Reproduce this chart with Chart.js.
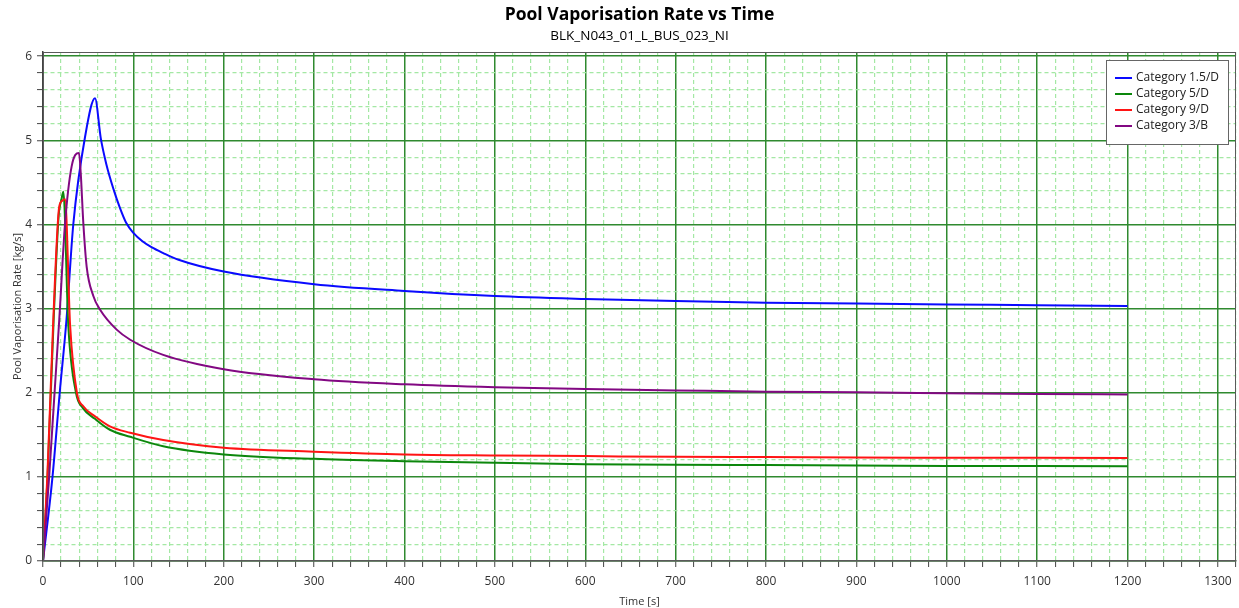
<!DOCTYPE html>
<html>
<head>
<meta charset="utf-8">
<script src="https://cdn.jsdelivr.net/npm/chart.js@4.4.1/dist/chart.umd.min.js"></script>
<style>
    html, body { margin: 0; padding: 0; background: #ffffff; }
    canvas { display: block; }
</style>
</head>
<body>
<canvas id="poolChart" width="1239" height="608"></canvas>
<script>
const chartTitle = 'Pool Vaporisation Rate vs Time';
const chartSubtitle = 'BLK_N043_01_L_BUS_023_NI';
const xAxisLabel = 'Time [s]';
const yAxisLabel = 'Pool Vaporisation Rate [kg/s]';

const seriesNames = ['Category 1.5/D', 'Category 5/D', 'Category 9/D', 'Category 3/B'];
const seriesColors = ['#0a0aff', '#0c870c', '#ff1414', '#820882'];

// Category 1.5/D
const time15D = [0, 10.5, 18.5, 26, 33.5, 46.5, 57.5, 64, 70, 78, 85, 92, 100, 110, 120, 133, 150, 200, 300, 400, 500, 600, 700, 800, 900, 1000, 1100, 1200];
const rate15D = [0, 1, 2, 2.87, 4, 5.04, 5.5, 5.02, 4.72, 4.42, 4.2, 4.02, 3.9, 3.8, 3.73, 3.66, 3.58, 3.44, 3.29, 3.21, 3.15, 3.115, 3.09, 3.07, 3.06, 3.05, 3.04, 3.03];

// Category 5/D
const time5D = [0, 5, 11.8, 17.3, 20.5, 22.5, 28, 36.5, 44, 57.5, 74, 96.5, 133, 200, 300, 400, 500, 600, 700, 800, 900, 1000, 1100, 1200];
const rate5D = [0, 1, 2.87, 4.1, 4.3, 4.39, 2.8, 2.0, 1.82, 1.69, 1.56, 1.476, 1.365, 1.267, 1.214, 1.187, 1.167, 1.151, 1.143, 1.14, 1.136, 1.13, 1.128, 1.125];

// Category 9/D
const time9D = [0, 4.8, 11.4, 17.8, 21, 24.4, 30, 37.5, 44.6, 57.5, 74, 96.5, 133, 200, 300, 400, 500, 600, 700, 800, 900, 1000, 1100, 1200];
const rate9D = [0, 1, 2.87, 4.2, 4.28, 4.3, 2.8, 2.0, 1.84, 1.72, 1.6, 1.524, 1.437, 1.345, 1.30, 1.267, 1.255, 1.247, 1.238, 1.235, 1.23, 1.228, 1.227, 1.225];

// Category 3/B
const time3B = [0, 6.8, 18, 24.3, 31.7, 39.8, 41.7, 44.6, 48.3, 55.7, 63, 81.5, 96.5, 133, 200, 300, 400, 500, 600, 700, 800, 900, 1000, 1100, 1200];
const rate3B = [0, 1, 2.87, 4, 4.69, 4.85, 4.62, 4.02, 3.5, 3.15, 2.99, 2.75, 2.63, 2.45, 2.28, 2.16, 2.10, 2.065, 2.044, 2.028, 2.012, 2.005, 1.995, 1.985, 1.98];

const seriesTimes = [time15D, time5D, time9D, time3B];
const seriesRates = [rate15D, rate5D, rate9D, rate3B];
// lower order is drawn on top: purple over red over green over blue
const seriesOrder = [4, 3, 2, 1];

const majorGrid = '#2f8a2f';
const minorGrid = '#a4e8a4';
const fontFamily = '"Open Sans", "Noto Sans", sans-serif';

function isWhole(value, step) {
    const r = value / step;
    return Math.abs(r - Math.round(r)) < 1e-6;
}

function makeDataset(i) {
    return {
        label: seriesNames[i],
        data: seriesTimes[i].map((t, k) => ({ x: t, y: seriesRates[i][k] })),
        borderColor: seriesColors[i],
        backgroundColor: seriesColors[i],
        borderWidth: 2,
        pointRadius: 0,
        order: seriesOrder[i],
        cubicInterpolationMode: 'monotone',
        fill: false
    };
}

const decorPlugin = {
    id: 'decor',
    afterDraw(chart) {
        const ctx = chart.ctx;
        const area = chart.chartArea;
        ctx.save();

        // plot frame
        ctx.strokeStyle = '#5a5a5a';
        ctx.lineWidth = 1;
        ctx.strokeRect(area.left + 0.5, area.top + 0.5, area.right - area.left - 1, area.bottom - area.top - 1);

        // titles, centred over the plot area
        const cx = (area.left + area.right) / 2;
        ctx.fillStyle = '#000000';
        ctx.textAlign = 'center';
        ctx.textBaseline = 'middle';
        ctx.font = 'bold 17.5px ' + fontFamily;
        ctx.fillText(chartTitle, cx, 15);
        ctx.font = '13.5px ' + fontFamily;
        ctx.fillText(chartSubtitle, cx, 36);

        // legend box in the top right corner
        const boxW = 122;
        const boxH = 84;
        const bx = area.right - 8 - boxW;
        const by = area.top + 8;
        ctx.fillStyle = '#ffffff';
        ctx.fillRect(bx, by, boxW, boxH);
        ctx.strokeStyle = '#666666';
        ctx.lineWidth = 1;
        ctx.strokeRect(bx + 0.5, by + 0.5, boxW, boxH);
        ctx.font = '12px ' + fontFamily;
        ctx.textAlign = 'left';
        chart.data.datasets.forEach((ds, i) => {
            const y = by + 18 + i * 16;
            ctx.strokeStyle = ds.borderColor;
            ctx.lineWidth = 2;
            ctx.beginPath();
            ctx.moveTo(bx + 9, y);
            ctx.lineTo(bx + 26, y);
            ctx.stroke();
            ctx.fillStyle = '#222222';
            ctx.fillText(ds.label, bx + 30, y);
        });
        ctx.restore();
    }
};

const chart = new Chart(document.getElementById('poolChart'), {
    type: 'line',
    data: {
        datasets: seriesNames.map((n, i) => makeDataset(i))
    },
    options: {
        responsive: false,
        animation: false,
        devicePixelRatio: 1,
        layout: { padding: { top: 52, right: 3, left: 0, bottom: 0 } },
        plugins: {
            legend: { display: false },
            title: { display: false },
            tooltip: { enabled: false }
        },
        scales: {
            x: {
                type: 'linear',
                min: 0,
                max: 1320,
                afterFit(scale) {
                    scale.height = 47;
                    scale.paddingLeft = 0;
                    scale.paddingRight = 0;
                },
                ticks: {
                    stepSize: 20,
                    autoSkip: false,
                    maxRotation: 0,
                    padding: 7,
                    color: '#333333',
                    font: { family: fontFamily, size: 12 },
                    callback: (v) => isWhole(v, 100) ? String(Math.round(v)) : ''
                },
                grid: {
                    color: (c) => c.tick && isWhole(c.tick.value, 100) ? majorGrid : minorGrid,
                    lineWidth: (c) => c.tick && isWhole(c.tick.value, 100) ? 1.5 : 1.2,
                    tickColor: '#444444',
                    tickWidth: 1,
                    tickLength: 6
                },
                border: {
                    color: '#444444',
                    width: 1.5,
                    dash: (c) => c.tick && !isWhole(c.tick.value, 100) ? [4, 3] : []
                },
                title: {
                    display: true,
                    text: xAxisLabel,
                    color: '#333333',
                    font: { family: fontFamily, size: 11 },
                    padding: { top: 4, bottom: 0 }
                }
            },
            y: {
                min: 0,
                max: 6.05,
                afterFit(scale) {
                    scale.width = 43;
                    scale.paddingTop = 0;
                    scale.paddingBottom = 0;
                },
                ticks: {
                    stepSize: 0.2,
                    includeBounds: false,
                    autoSkip: false,
                    padding: 5,
                    color: '#333333',
                    font: { family: fontFamily, size: 12 },
                    callback: (v) => isWhole(v, 1) ? String(Math.round(v)) : ''
                },
                grid: {
                    color: (c) => c.tick && isWhole(c.tick.value, 1) ? majorGrid : minorGrid,
                    lineWidth: (c) => c.tick && isWhole(c.tick.value, 1) ? 1.5 : 1.2,
                    tickColor: '#444444',
                    tickWidth: 1,
                    tickLength: 6
                },
                border: {
                    color: '#444444',
                    width: 1.5,
                    dash: (c) => c.tick && !isWhole(c.tick.value, 1) ? [4, 3] : []
                },
                title: {
                    display: true,
                    text: yAxisLabel,
                    color: '#333333',
                    font: { family: fontFamily, size: 11 },
                    padding: { top: 11, bottom: 0 }
                }
            }
        }
    },
    plugins: [decorPlugin]
});
</script>
</body>
</html>
